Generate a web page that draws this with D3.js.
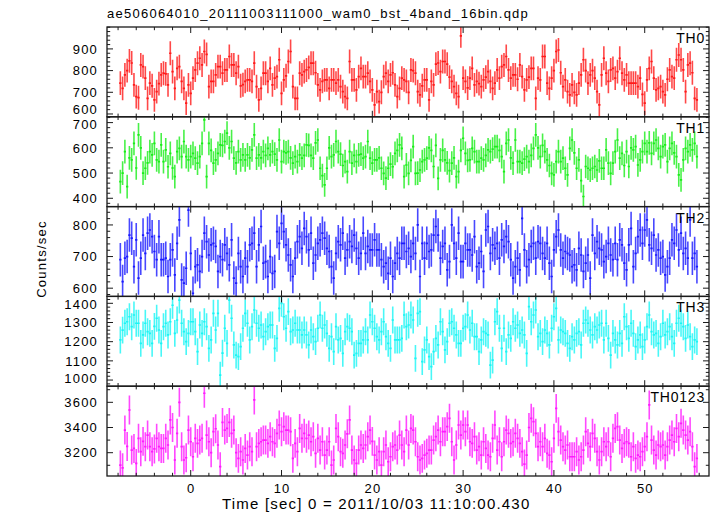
<!DOCTYPE html>
<html><head><meta charset="utf-8">
<script src="https://cdn.jsdelivr.net/npm/d3@7"></script>
<style>
body{margin:0;background:#fff}
svg{display:block}
text{font-family:"Liberation Sans",Arial,Helvetica,sans-serif;fill:#000}
</style>
</head><body><svg id="c" width="717" height="516"></svg>
<script>
const title = "ae506064010_20111003111000_wam0_bst_4band_16bin.qdp";
const xLabel = "Time [sec] 0 = 2011/10/03 11:10:00.430";
const yLabel = "Counts/sec";
const seriesNames = ["TH0","TH1","TH2","TH3","TH0123"];
const seriesColors = ["#ff1a1a","#1aee1a","#1a1aff","#1af5f5","#ff1aff"];
const startTime = -7.75, binWidth = 0.25;
const errorBars = [55,47,53,70,115];
const yDomains = [[587,1001],[367,723],[574,858],[968,1436],[3015,3728]];
const yMajorTicks = [[600,700,800,900],[400,500,600,700],[600,700,800],[1000,1100,1200,1300,1400],[3200,3400,3600]];
const yMinorStep = [20,20,20,20,100];
const xDomain = [-9.22, 57.08];
const xMajorTicks = [0,10,20,30,40,50];
const xMinorStep = 2;

const th0 = [742,718,780,800,845,835,734,680,675,826,
818,765,672,742,730,665,703,740,780,788,
785,734,880,795,718,810,818,750,718,650,
734,695,765,803,834,857,826,888,875,726,
750,750,780,818,818,788,803,803,865,826,
826,788,818,730,735,750,757,757,750,834,
726,665,718,788,788,750,810,734,765,772,
850,695,757,776,842,888,726,672,672,788,
780,795,803,815,834,834,790,734,711,750,
757,757,718,757,757,742,757,726,703,680,
672,842,757,757,711,772,810,772,772,788,
750,711,642,703,657,700,772,788,750,780,
790,734,680,718,765,757,750,
700,803,800,788,703,688,730,757,757,665,
750,734,830,835,795,842,842,830,770,750,
726,695,680,960,765,750,720,765,810,734,
750,740,726,757,770,795,750,718,742,803,
765,818,826,865,803,765,780,780,760,826,
772,711,757,770,810,810,672,765,757,865,
865,742,718,765,800,888,895,790,726,757,
703,688,734,700,688,742,780,850,800,742,
780,800,765,703,642,780,857,788,750,803,
810,765,795,857,788,757,780,742,742,742,
742,726,765,690,650,757,810,842,765,711,
718,726,703,688,760,803,772,765,850,872,
850,803,703,826,834,790,672,665];

const th1 = [466,500,585,446,560,552,618,520,651,600,
500,519,540,585,572,618,552,545,612,545,
592,525,578,520,486,585,598,565,625,565,
552,565,578,559,539,565,618,711,486,618,
590,539,552,578,612,610,625,658,600,625,
559,540,585,552,572,552,572,560,592,651,
559,572,560,585,570,598,572,585,575,552,
631,545,585,580,585,560,539,565,545,572,
559,570,612,610,570,559,620,631,519,490,
453,519,600,565,572,625,585,575,530,545,
506,585,539,570,545,572,575,559,565,625,
559,539,552,552,560,519,499,480,519,535,
525,578,590,612,598,486,532,
499,550,605,499,500,512,545,552,559,600,
590,526,610,479,552,590,552,540,510,539,
560,486,506,590,638,578,550,552,598,585,
545,545,559,552,570,592,585,595,605,605,
590,565,506,618,631,560,539,631,545,545,
539,555,565,545,570,598,651,600,565,610,
585,552,530,499,493,545,585,545,559,519,
493,598,631,580,519,552,470,407,526,519,
512,519,526,512,548,519,519,592,539,499,
539,585,631,559,578,530,585,526,600,592,
605,532,552,585,618,585,620,578,618,631,
598,565,605,612,545,598,618,580,565,493,
473,552,598,585,612,592,618,565];

const th2 = [690,621,695,700,768,758,668,753,632,695,
768,710,774,784,763,716,690,763,690,690,
695,637,690,721,642,742,816,626,616,663,
847,710,584,668,674,653,700,774,747,705,
737,742,732,653,700,690,737,710,674,753,
632,616,710,668,637,695,668,737,742,774,
668,737,795,679,684,637,700,647,653,779,
742,805,779,737,705,674,637,695,747,763,
726,789,763,721,774,679,705,742,753,774,
758,726,716,668,632,710,747,737,774,695,
721,747,732,768,726,695,710,774,710,732,
721,721,753,721,721,690,668,679,647,695,
637,679,710,695,742,742,716,
726,700,742,710,800,637,742,695,742,716,
721,768,795,768,695,732,742,658,684,800,
742,695,774,684,684,742,721,721,705,763,
668,679,716,653,784,795,710,737,726,742,
695,753,732,763,747,690,632,668,695,658,
821,721,668,690,732,742,695,747,742,710,
695,742,679,637,721,763,784,721,695,716,
710,705,668,674,658,726,705,653,679,705,
632,768,710,747,726,721,684,700,742,705,
690,742,690,753,737,679,658,737,789,668,
710,763,784,742,784,816,737,726,768,705,
721,695,700,642,668,695,753,742,784,721,
774,710,726,695,816,695,710,668];

const th3 = [1209,1260,1296,1304,1330,1278,1339,1296,1296,1191,
1235,1296,1252,1243,1191,1280,1322,1261,1191,1278,
1296,1235,1304,1390,1243,1313,1417,1296,1252,1200,
1243,1304,1304,1252,1148,1287,1243,1304,1278,1165,
1209,1348,1261,1348,1026,1140,1270,1191,1417,1322,
1183,1130,1122,1174,1270,1348,1296,1209,1278,1365,
1296,1270,1287,1226,1252,1278,1287,1287,1165,1217,
1374,1400,1330,1270,1357,1252,1261,1296,1261,1261,
1235,1261,1235,1183,1261,1226,1200,1270,1339,1270,
1287,1243,1165,1226,1148,1278,1209,1217,1139,1252,
1278,1270,1252,1130,1139,1191,1191,1209,1252,1209,
1339,1304,1270,1226,1209,1252,1304,1226,1191,1165,
1313,1209,1209,1209,1217,1339,1278,
1287,1339,1313,1113,1348,1357,1096,1157,1209,1122,
1070,1148,1217,1183,1304,1252,1157,1200,1296,1304,
1270,1235,1191,1191,1270,1278,1339,1261,1296,1226,
1226,1148,1209,1252,1243,1235,1078,1104,1304,1357,
1270,1165,1270,1148,1235,1217,1304,1270,1287,1243,
1261,1235,1139,1383,1304,1339,1365,1226,1243,1200,
1261,1243,1183,1270,1330,1374,1209,1261,1252,1243,
1191,1165,1226,1209,1243,1252,1183,1296,1313,1296,
1261,1235,1278,1261,1287,1296,1209,1296,1217,1130,
1243,1209,1183,1243,1191,1330,1278,1217,1296,1243,
1174,1209,1235,1174,1209,1278,1339,1252,1235,1243,
1191,1226,1296,1235,1252,1278,1226,1191,1296,1322,
1296,1278,1217,1287,1226,1174,1209,1200];

const th0123 = [3102,3080,3380,3250,3539,3221,3234,3115,3314,3208,
3290,3248,3340,3248,3208,3230,3314,3248,3234,3234,
3314,3261,3460,3400,3142,3354,3600,3248,3142,3160,
3380,3287,3168,3314,3274,3300,3314,3672,3340,3287,
3200,3367,3390,3261,3089,3440,3380,3393,3440,3354,
3380,3200,3155,3208,3142,3234,3181,3248,3208,3619,
3248,3274,3287,3300,3300,3274,3327,3287,3274,3354,
3420,3367,3407,3380,3380,3367,3155,3274,3208,3393,
3314,3354,3314,3340,3287,3327,3195,3314,3221,3287,
3181,3221,3287,3102,3142,3393,3327,3208,3195,3261,
3350,3460,3221,3142,3115,3221,3261,3234,3261,3327,
3380,3290,3181,3142,3208,3102,3208,3261,3128,3168,
3248,3261,3221,3340,3261,3208,3380,
3261,3393,3380,3287,3168,3142,3155,3181,3195,3221,
3221,3300,3327,3380,3287,3367,3367,3407,3473,3287,
3142,3261,3420,3340,3420,3367,3420,3287,3274,3327,
3221,3248,3181,3287,3234,3181,3168,3314,3420,3221,
3287,3168,3287,3380,3354,3274,3287,3354,3314,3274,
3208,3110,3181,3400,3473,3446,3354,3248,3287,3248,
3314,3195,3181,3128,3314,3552,3367,3300,3248,3221,
3261,3168,3168,3168,3208,3142,3168,3221,3367,3274,
3248,3354,3314,3208,3142,3208,3287,3248,3287,3168,
3314,3393,3407,3300,3234,3274,3287,3274,3168,3248,
3155,3181,3168,3208,3248,3327,3579,3300,3221,3181,
3261,3248,3261,3181,3248,3300,3340,3287,3393,3327,
3433,3380,3340,3300,3367,3248,3089,3155];

const seriesValues = [th0, th1, th2, th3, th0123];

// ---------- layout ----------
const L = 107, R = 709, T = 27, B = 476;
const nP = seriesValues.length;
const ph = (B - T) / nP;
const svg = d3.select("#c");
const x = d3.scaleLinear().domain(xDomain).range([L, R]);
const xMinor = d3.range(-8, 57, xMinorStep);
const frameColor = "#1a1a1a";
const labelFont = "13px", spacing = "1.2px";

svg.append("text").attr("x", 107).attr("y", 18)
  .style("font-size", "13px").style("letter-spacing", "1.25px").text(title);

seriesValues.forEach((vals, i) => {
  const y0 = T + i * ph, y1 = y0 + ph;
  const y = d3.scaleLinear().domain(yDomains[i]).range([y1, y0]);
  const g = svg.append("g");
  const cid = "clip" + i;
  svg.append("clipPath").attr("id", cid).append("rect")
    .attr("x", L).attr("y", y0).attr("width", R - L).attr("height", ph);
  const err = errorBars[i];
  const pv = d3.path(), ph2 = d3.path();
  vals.forEach((v, j) => {
    const t = startTime + j * binWidth;
    ph2.moveTo(x(t - binWidth / 2), y(v));
    ph2.lineTo(x(t + binWidth / 2), y(v));
    pv.moveTo(x(t), y(v + err));
    pv.lineTo(x(t), y(v - err));
  });
  g.append("path").attr("clip-path", `url(#${cid})`).attr("d", pv.toString())
    .attr("fill", "none").attr("stroke", seriesColors[i]).attr("stroke-width", 1.6)
    .attr("stroke-opacity", 0.8);
  g.append("path").attr("clip-path", `url(#${cid})`).attr("d", ph2.toString())
    .attr("fill", "none").attr("stroke", seriesColors[i]).attr("stroke-width", 1.7);

  // frame
  svg.append("rect").attr("x", L).attr("y", y0).attr("width", R - L).attr("height", ph)
    .attr("fill", "none").attr("stroke", frameColor).attr("stroke-width", 1.3);

  // x ticks (inward, top & bottom)
  const tg = svg.append("g").attr("stroke", frameColor).attr("stroke-width", 1);
  xMinor.forEach(t => {
    const len = xMajorTicks.includes(t) ? 6 : 3.2;
    const xx = x(t);
    tg.append("line").attr("x1", xx).attr("x2", xx).attr("y1", y0).attr("y2", y0 + len);
    tg.append("line").attr("x1", xx).attr("x2", xx).attr("y1", y1).attr("y2", y1 - len);
  });
  // y ticks
  const [d0, d1] = yDomains[i];
  const minors = d3.range(Math.ceil(d0 / yMinorStep[i]) * yMinorStep[i], d1, yMinorStep[i]);
  minors.forEach(v => {
    const len = yMajorTicks[i].includes(v) ? 6 : 3.2;
    const yy = y(v);
    tg.append("line").attr("x1", L).attr("x2", L + len).attr("y1", yy).attr("y2", yy);
    tg.append("line").attr("x1", R).attr("x2", R - len).attr("y1", yy).attr("y2", yy);
  });
  // y labels (nudged slightly near panel edges so neighbours don't collide)
  yMajorTicks[i].forEach(v => {
    let yy = y(v);
    if (yy - y0 < 8) yy = y0 + 8;
    if (y1 - yy < 7.5) yy = y1 - 7.5;
    svg.append("text").attr("x", 98).attr("y", yy).attr("dy", "0.36em")
      .attr("text-anchor", "end").style("font-size", labelFont).style("letter-spacing", spacing)
      .text(v);
  });
  // series name
  svg.append("text").attr("x", 705).attr("y", y0 + 16).attr("text-anchor", "end")
    .style("font-size", "14px").style("letter-spacing", "0.8px").text(seriesNames[i]);
});

// x tick labels
xMajorTicks.forEach(t => {
  svg.append("text").attr("x", x(t) + 0.6).attr("y", 493).attr("text-anchor", "middle")
    .style("font-size", labelFont).style("letter-spacing", spacing).text(t);
});
svg.append("text").attr("x", 222).attr("y", 509)
  .style("font-size", "15px").style("letter-spacing", "1.2px").text(xLabel);
svg.append("text").attr("transform", "translate(46,259) rotate(-90)")
  .attr("text-anchor", "middle").style("font-size", "13px").style("letter-spacing", "1.25px")
  .text(yLabel);
</script></body></html>
